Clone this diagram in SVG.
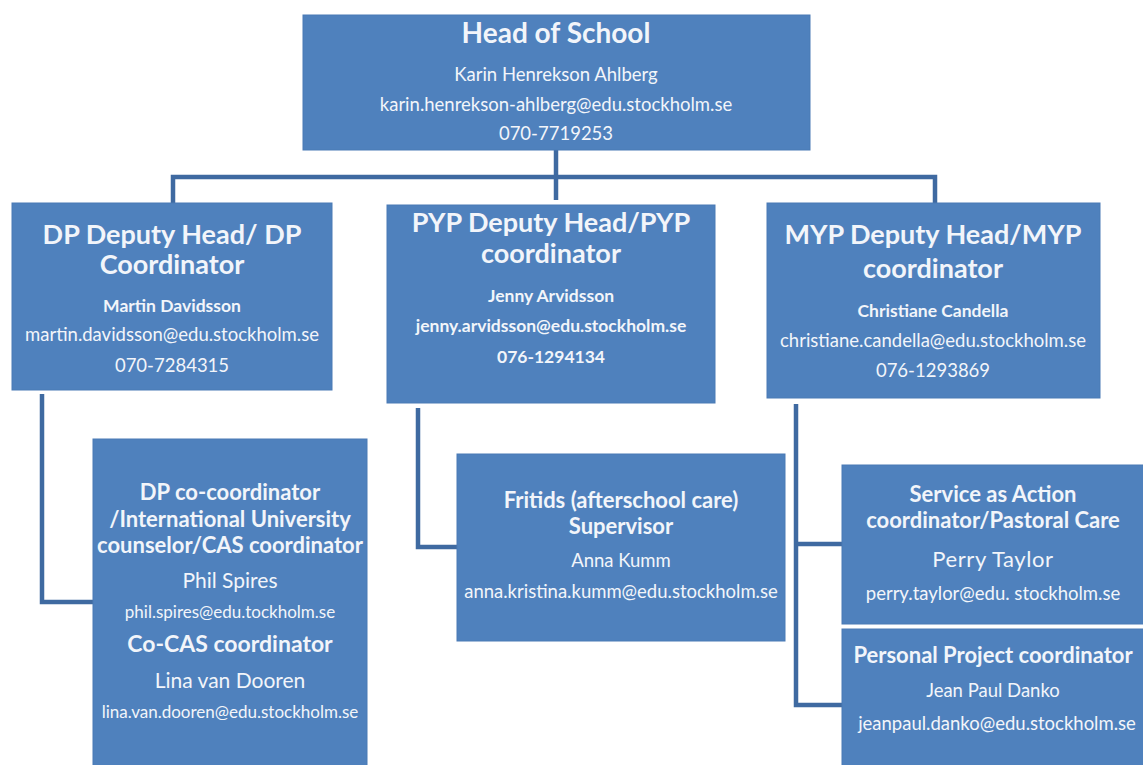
<svg xmlns="http://www.w3.org/2000/svg" width="1143" height="765" viewBox="0 0 1143 765">
<style>
.box{fill:#4f81bd;stroke:#4a7ab5;stroke-width:1}
.c{fill:none;stroke:#3f6aa1;stroke-width:4.5;stroke-linejoin:miter}
text{font-family:Lato,"Open Sans","Liberation Sans",sans-serif;fill:#f2f5fa;text-anchor:middle}
.h{font-weight:bold;font-size:27px}
.hh{font-weight:bold;font-size:28px}
.t{font-weight:bold;font-size:22px}
.tt{font-weight:bold;font-size:23px}
.r{font-size:18.5px}
.rl{font-size:21px}
.s{font-size:17px}
.b{font-weight:bold;font-size:17.5px}
</style>
<rect width="1143" height="765" fill="#ffffff"/>
<g id="connectors">
<path class="c" d="M556,150 V200"/>
<path class="c" d="M173,203 V177 H935 V203"/>
<path class="c" d="M42,394 V602 H93"/>
<path class="c" d="M418,408 V547 H457"/>
<path class="c" d="M796,404 V705 H842 M796,544 H842"/>
</g>
<g id="head">
<rect class="box" x="303" y="15" width="507" height="135"/>
<text class="hh" x="556" y="43">Head of School</text>
<text class="r" x="556" y="81">Karin Henrekson Ahlberg</text>
<text class="r" x="556" y="111">karin.henrekson-ahlberg@edu.stockholm.se</text>
<text class="r" x="556" y="140">070-7719253</text>
</g>
<g id="dp">
<rect class="box" x="12" y="203" width="320" height="187"/>
<text class="h" x="172" y="244">DP Deputy Head/ DP</text>
<text class="h" x="172" y="274">Coordinator</text>
<text class="b" x="172" y="312">Martin Davidsson</text>
<text class="r" x="172" y="341">martin.davidsson@edu.stockholm.se</text>
<text class="r" x="172" y="372">070-7284315</text>
</g>
<g id="pyp">
<rect class="box" x="387" y="205" width="328" height="198"/>
<text class="h" x="551" y="232">PYP Deputy Head/PYP</text>
<text class="h" x="551" y="263">coordinator</text>
<text class="b" x="551" y="302">Jenny Arvidsson</text>
<text class="b" x="551" y="332">jenny.arvidsson@edu.stockholm.se</text>
<text class="b" x="551" y="363">076-1294134</text>
</g>
<g id="myp">
<rect class="box" x="767" y="203" width="333" height="195"/>
<text class="h" x="933" y="244">MYP Deputy Head/MYP</text>
<text class="h" x="933" y="278">coordinator</text>
<text class="b" x="933" y="317">Christiane Candella</text>
<text class="r" x="933" y="347">christiane.candella@edu.stockholm.se</text>
<text class="r" x="933" y="377">076-1293869</text>
</g>
<g id="dpco">
<rect class="box" x="93" y="439" width="274" height="330"/>
<text class="t" x="230" y="500">DP co-coordinator</text>
<text class="t" x="230" y="527">/International University</text>
<text class="t" x="230" y="553">counselor/CAS coordinator</text>
<text class="rl" x="230" y="588">Phil Spires</text>
<text class="s" x="230" y="618">phil.spires@edu.tockholm.se</text>
<text class="tt" x="230" y="652">Co-CAS coordinator</text>
<text class="rl" x="230" y="688">Lina van Dooren</text>
<text class="s" x="230" y="718">lina.van.dooren@edu.stockholm.se</text>
</g>
<g id="fritids">
<rect class="box" x="457" y="454" width="328" height="187"/>
<text class="t" x="621" y="508">Fritids (afterschool care)</text>
<text class="t" x="621" y="534">Supervisor</text>
<text class="r" x="621" y="567">Anna Kumm</text>
<text class="r" x="621" y="598">anna.kristina.kumm@edu.stockholm.se</text>
</g>
<g id="service">
<rect class="box" x="842" y="465" width="305" height="159"/>
<text class="t" x="993" y="502">Service as Action</text>
<text class="t" x="993" y="528">coordinator/Pastoral Care</text>
<text class="rl" x="993" y="567" style="font-size:22px;letter-spacing:0.6px">Perry Taylor</text>
<text class="r" x="993" y="600">perry.taylor@edu. stockholm.se</text>
</g>
<g id="personal">
<rect class="box" x="842" y="629" width="305" height="140"/>
<text class="t" x="993" y="663">Personal Project coordinator</text>
<text class="r" x="993" y="697">Jean Paul Danko</text>
<text class="r" x="997" y="730">jeanpaul.danko@edu.stockholm.se</text>
</g>
</svg>
